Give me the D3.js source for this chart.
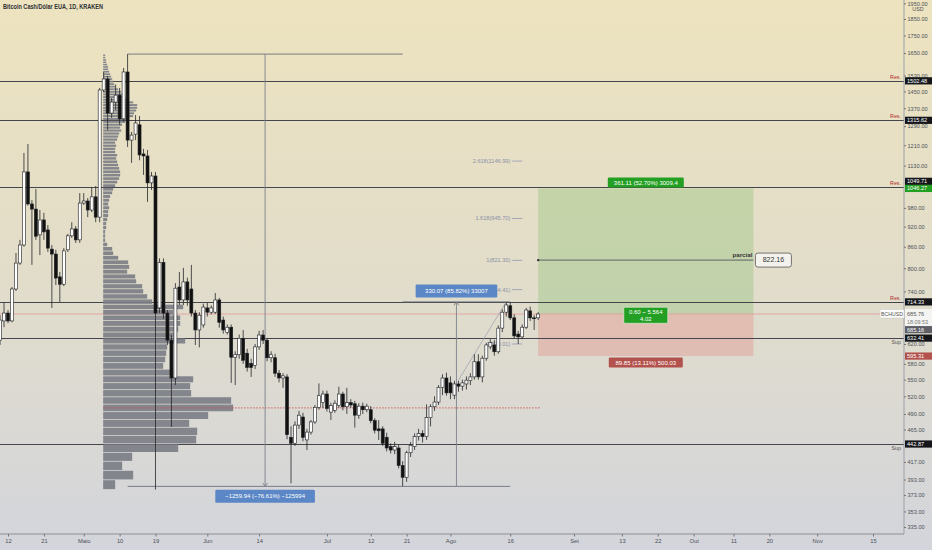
<!DOCTYPE html>
<html><head><meta charset="utf-8">
<script src="https://cdn.jsdelivr.net/npm/d3@7"></script>
<style>html,body{margin:0;padding:0;overflow:hidden;background:#e0dccd}svg{display:block;font-family:"Liberation Sans",Arial,sans-serif}</style>
</head><body><svg id="c" width="932" height="550"></svg>
<script>
// ---------------- DATA ----------------
const title = "Bitcoin Cash/Dólar EUA, 1D, KRAKEN";
const candleStart = "2021-04-10";
const opens = [628,670,688,670,746,814,865,1106,993,976,895,941,910,853,839,777,758,851,892,913,880,
 996,1003,973,1017,950,1457,1512,1348,1399,1432,1322,1548,1231,1256,1296,1175,1167,1066,1091,700,816,688,628,553,751,719,764,746,688,650,661,
 700,690,690,719,672,645,656,593,598,632,601,581,577,614,639,628,592,592,562,553,555,453,444,472,485,449,461,477,501,509,
 524,493,496,504,524,502,509,507,488,503,497,497,479,466,466,453,439,434,437,412,396,430,439,454,459,454,484,502,510,536,553,
 544,522,542,538,542,548,555,584,555,591,614,618,604,654,690,705,677,641,635,656,693,677,677];
const highs = [683,712,695,751,842,880,1179,1215,1006,1044,973,964,925,865,851,790,856,898,934,922,1030,
 1030,1013,1051,1055,1467,1548,1527,1418,1484,1467,1569,1644,1265,1339,1335,1195,1191,1106,1106,827,827,695,639,761,790,801,775,809,695,690,710,
 712,706,736,724,680,662,662,605,640,650,610,590,620,648,650,632,605,600,568,562,560,470,478,495,492,466,480,505,543,530,
 530,509,513,537,528,535,515,512,508,509,507,503,483,480,470,460,444,446,442,418,433,446,459,466,464,506,506,520,540,560,563,
 556,548,548,550,556,562,599,599,596,622,630,628,660,697,714.33,712,685,648,662,700,703,683,690];
const lows = [618,656,665,667,741,809,860,987,809,880,836,880,845,700,756,714,753,845,886,871,871,
 990,950,966,934,934,1447,1273,1326,1362,1296,1309,1203,1140,1231,1150,1095,1000,1041,380,688,675,618,469,540,707,707,705,680,618,613,655,
 680,685,686,655,642,640,544,540,590,580,565,555,570,608,620,585,583,555,545,535,450,388,440,466,447,434,457,474,497,500,
 494,480,492,500,496,490,500,468,482,490,493,475,459,449,440,432,429,428,408,384.06,390,424,434,448,445,449,470,495,505,522,521,
 515,515,528,530,532,540,550,550,545,586,609,596,600,645,680,672,632,620,630,652,670,650,672];
const closes = [672,688,670,746,814,865,1106,993,976,891,941,904,856,839,774,758,848,892,913,880,996,
 1003,973,1017,950,1457,1512,1348,1399,1432,1322,1548,1231,1252,1304,1171,1167,1066,1091,688,816,688,628,553,748,719,764,719,688,650,683,702,
 690,700,719,667,650,656,593,598,632,587,573,573,614,639,628,592,598,562,553,557,457,444,472,488,453,461,477,501,521,524,
 499,504,508,524,502,509,505,488,503,497,503,479,464,463,444,437,434,439,412,396,430,441,454,459,454,484,502,510,536,553,526,
 526,542,538,544,549,555,584,555,591,618,623,604,654,690,707,677,637,635,656,695,677,675,685.76];

// fixed range volume profile (May 6 -> Aug 23), 100 rows from 380 to 1644
const profileStartDate = "2021-05-06";
const profileEndDate = "2021-08-23";
const profileLow = 380, profileHigh = 1644;
const profileVolumes = [12,30,19,29,75,93,94,86,105,130,
 128,88,87,90,70,60,62,63,64,82,
 72,75,77,77,70,80,49,44,40,39,
 33,32,24,26,25,15,10,9,4,2,
 2,2,3,3,4,5,5,6,5,6,
 7,9,10,12,14,16,17,17,16,15,
 14,13,14,12,12,13,12,14,15,16,
 18,17,19,22,26,30,31,33,34,34,
 30,26,22,20,18,15,12,11,10,9,
 8,7,6,5,5,4,3,3,2,2];

// horizontal S/R levels
const levelPrices = [1502.48, 1315.62, 1049.71, 714.33, 632.41, 442.87];
const levelTags   = ["Res.","Res.","Res.","Res.","Sup","Sup"];

// price axis
const priceTicks = [1950,1850,1750,1650,1530,1450,1370,1290,1210,1130,980,920,860,800,740,620,580,550,520,490,465,417,393,373,353,335];
const lastPrice = 685.76, lastTime = "18:09:53", symbol = "BCHUSD";

// time axis
const timeTickDates = ["2021-04-12","2021-04-21","2021-05-01","2021-05-10","2021-05-19","2021-06-01","2021-06-14","2021-07-01","2021-07-12","2021-07-21","2021-08-01","2021-08-16","2021-09-01","2021-09-13","2021-09-22","2021-10-01","2021-10-11","2021-10-20","2021-11-01","2021-11-15"];
const timeTickLabels = ["12","21","Maio","10","19","Jun","14","Jul","12","21","Ago","16","Set","13","22","Out","11","20","Nov","15"];

// long position tool
const posStart = "2021-08-23", posEnd = "2021-10-16";
const posEntry = 685.16, posTarget = 1046.27, posStop = 595.31;
const posTargetText = "361.11 (52.70%) 3009.4";
const posMidText = ["0.60 ~ 5.564", "4.02"];
const posStopText = "89.85 (13.11%) 500.03";

// partial target line
const partialPrice = 822.16, partialLabel = "parcial";

// trend-based fib extension
const fibRatios = [0, 0.618, 1, 1.618, 2.618];
const fibPrices = [620.01, 744.41, 821.30, 945.70, 1146.99];
const fibLineDates = ["2021-08-16","2021-08-19"];
const fibTrendDates = ["2021-08-03","2021-08-15"];
const fibTrendPrices = [549, 714.33];

// price range measurements
const measures = [
  {from:"2021-05-12", to:"2021-07-20", p0:1644.00, p1:384.06, text:"\u22121259.94 (\u221276.61%) \u2212125994"},
  {from:"2021-07-20", to:"2021-08-16", p0:384.06, p1:714.33, text:"330.07 (85.82%) 33007"}
];

// ---------------- CHART ----------------
const P = d3.utcParse("%Y-%m-%d");
const svg = d3.select("#c");
const W = 932, H = 550, plotR = 904, plotB = 534;
const x = d3.scaleUtc().domain([P("2021-04-12"), P("2021-11-15")]).range([8, 873]);
const y = d3.scaleLog().domain([1650, 335]).range([53, 527]);

const defs = svg.append("defs");
const gr = defs.append("linearGradient").attr("id","bg").attr("x1",0).attr("y1",0).attr("x2",0).attr("y2",1);
gr.append("stop").attr("offset","0%").attr("stop-color","#ede3bf");
gr.append("stop").attr("offset","50%").attr("stop-color","#e2ddca");
gr.append("stop").attr("offset","100%").attr("stop-color","#d3d5dc");
defs.append("clipPath").attr("id","clip").append("rect").attr("x",0).attr("y",0).attr("width",plotR).attr("height",plotB);
defs.append("clipPath").attr("id","fibclip").append("rect").attr("x",0).attr("y",0).attr("width",plotR).attr("height",plotB);
svg.append("rect").attr("width",W).attr("height",H).attr("fill","url(#bg)");

const plot = svg.append("g").attr("clip-path","url(#clip)");

// position tool boxes
const px0 = x(P(posStart)), px1 = x(P(posEnd)), pmx = (px0+px1)/2;
plot.append("rect").attr("x",px0).attr("width",px1-px0).attr("y",y(posTarget)).attr("height",y(posEntry)-y(posTarget)).attr("fill","rgba(80,175,60,0.22)");
plot.append("rect").attr("x",px0).attr("width",px1-px0).attr("y",y(posEntry)).attr("height",y(posStop)-y(posEntry)).attr("fill","rgba(235,70,70,0.2)");

// last price line
plot.append("line").attr("x1",0).attr("x2",plotR).attr("y1",y(lastPrice)).attr("y2",y(lastPrice))
  .attr("stroke","#e29a9a").attr("stroke-width",0.8);

// S/R levels
plot.selectAll(".lvl").data(levelPrices).join("line").attr("class","lvl")
  .attr("x1",0).attr("x2",plotR).attr("y1",d=>Math.round(y(d))+0.5).attr("y2",d=>Math.round(y(d))+0.5)
  .attr("stroke","#45464c").attr("stroke-width",1);

// volume profile
const rowStep = (profileHigh-profileLow)/profileVolumes.length;
const vpx = x(P(profileStartDate)) - 0.5;
const wScale = d3.scaleLinear().domain([0, d3.max(profileVolumes)]).range([0, 130]);
plot.selectAll(".vp").data(profileVolumes).join("rect").attr("class","vp")
  .attr("x",vpx)
  .attr("y",(d,i)=>y(profileLow+rowStep*(i+1))+0.4)
  .attr("height",(d,i)=>Math.max(0.6, y(profileLow+rowStep*i)-y(profileLow+rowStep*(i+1))-0.8))
  .attr("width",d=>wScale(d))
  .attr("fill","#7a7c85").attr("fill-opacity",0.9);
const pocIdx = profileVolumes.indexOf(d3.max(profileVolumes));
const pocPrice = profileLow + rowStep*(pocIdx+0.5);
plot.append("line").attr("x1",vpx).attr("x2",x(P(profileEndDate))+2).attr("y1",y(pocPrice)).attr("y2",y(pocPrice))
  .attr("stroke","#d45050").attr("stroke-width",0.9).attr("stroke-dasharray","1.5,1.5");

// partial line
const partY = y(partialPrice);
plot.append("line").attr("x1",px0).attr("x2",px1).attr("y1",partY).attr("y2",partY).attr("stroke","#55565c").attr("stroke-width",0.9);
plot.append("circle").attr("cx",px0).attr("cy",partY).attr("r",1.2).attr("fill","#333");

// fib extension
const fx0 = x(P(fibLineDates[0])), fx1 = x(P(fibLineDates[1]));
plot.append("line").attr("x1",x(P(fibTrendDates[0]))).attr("y1",y(fibTrendPrices[0]))
  .attr("x2",x(P(fibTrendDates[1]))).attr("y2",y(fibTrendPrices[1])).attr("stroke","#9a9eae").attr("stroke-width",0.7);
plot.selectAll(".fibl").data(fibPrices).join("line").attr("class","fibl")
  .attr("x1",fx0+2).attr("x2",fx1).attr("y1",d=>y(d)).attr("y2",d=>y(d)).attr("stroke","#9a9fb3").attr("stroke-width",0.9);
plot.selectAll(".fibt").data(fibPrices).join("text").attr("class","fibt")
  .attr("x",fx0).attr("y",d=>y(d)+2).attr("text-anchor","end").attr("font-size",5.6).attr("fill","#8a90a8")
  .text((d,i)=>fibRatios[i]+"("+d.toFixed(2)+")");

// measurement lines
measures.forEach((m)=>{
  const a = x(P(m.from)), b = x(P(m.to)), mx = (a+b)/2;
  const y0 = y(m.p0), y1 = y(m.p1);
  [y0,y1].forEach(yy=>plot.append("line").attr("x1",a).attr("x2",b).attr("y1",yy).attr("y2",yy).attr("stroke","#6d7079").attr("stroke-width",0.9));
  plot.append("line").attr("x1",mx).attr("x2",mx).attr("y1",y0).attr("y2",y1).attr("stroke","#7d808a").attr("stroke-width",0.9);
  const dir = y1>y0 ? -1 : 1;
  plot.append("path").attr("d",`M${mx-2.5},${y1+dir*3.5}L${mx},${y1}L${mx+2.5},${y1+dir*3.5}`).attr("fill","none").attr("stroke","#7d808a").attr("stroke-width",0.9);
});

// candles
const start = P(candleStart);
const candles = opens.map((o,i)=>({date:d3.utcDay.offset(start,i), o, h:highs[i], l:lows[i], c:closes[i]}));
const cg = plot.append("g");
cg.selectAll(".wk").data(candles).join("line").attr("class","wk")
  .attr("x1",d=>x(d.date)).attr("x2",d=>x(d.date)).attr("y1",d=>y(d.h)).attr("y2",d=>y(d.l))
  .attr("stroke","#26272b").attr("stroke-width",0.8);
cg.selectAll(".bd").data(candles).join("rect").attr("class","bd")
  .attr("x",d=>x(d.date)-1.5).attr("width",3)
  .attr("y",d=>y(Math.max(d.o,d.c)))
  .attr("height",d=>Math.max(0.8, Math.abs(y(d.o)-y(d.c))))
  .attr("fill",d=>d.c>=d.o?"#ffffff":"#111111")
  .attr("stroke","#1d1e22").attr("stroke-width",0.6);

// Res./Sup tags
plot.selectAll(".tag").data(levelPrices).join("text").attr("class","tag")
  .attr("x",901).attr("text-anchor","end").attr("font-size",5.3)
  .attr("y",(d,i)=>levelTags[i]==="Res." ? y(d)-2 : y(d)+6)
  .attr("fill",(d,i)=>levelTags[i]==="Res." ? "#b02a2a" : "#555")
  .text((d,i)=>levelTags[i]);

// label helper
function label(g, cx, cy, w, h, fill, lines, color, stroke){
  g.append("rect").attr("x",cx-w/2).attr("y",cy-h/2).attr("width",w).attr("height",h).attr("rx",1.2)
    .attr("fill",fill).attr("stroke",stroke||"none").attr("stroke-width",0.6);
  lines.forEach((t,i)=>g.append("text").attr("x",cx).attr("y",cy-(lines.length-1)*3.3+i*6.6+2.1)
    .attr("text-anchor","middle").attr("font-size",6).attr("fill",color).text(t));
}
const lg = svg.append("g");
label(lg, pmx, y(posTarget)-6, 76, 10, "#239f23", [posTargetText], "#fff");
label(lg, pmx, y(posEntry)+1, 44, 16, "#239f23", posMidText, "#fff", "#e8f4e0");
label(lg, pmx, y(posStop)+6.5, 74, 10, "#b3524c", [posStopText], "#fff");
measures.forEach((m)=>{
  const mx = (x(P(m.from))+x(P(m.to)))/2;
  const top = Math.min(y(m.p0),y(m.p1)), bot = Math.max(y(m.p0),y(m.p1));
  const up = m.p1 > m.p0;
  const w = m.text.length*3.6+6;
  label(lg, mx, up ? top-11 : bot+10, w, 13, "#5b87c6", [m.text], "#fff");
});
lg.append("text").attr("x",px1-1).attr("y",partY-3).attr("text-anchor","end").attr("font-size",6.2).attr("font-weight","bold").attr("fill","#333").text(partialLabel);
lg.append("rect").attr("x",px1+2).attr("y",partY-7).attr("width",36).attr("height",14).attr("rx",2.5)
  .attr("fill","#f4f2ec").attr("stroke","#555").attr("stroke-width",0.8);
lg.append("text").attr("x",px1+20).attr("y",partY+2.4).attr("text-anchor","middle").attr("font-size",7).attr("fill","#333").text(partialPrice.toFixed(2));

// title
svg.append("text").attr("x",3).attr("y",9).attr("font-size",6.3).attr("font-weight","bold").attr("fill","#2f3035")
  .attr("textLength",100).attr("lengthAdjust","spacingAndGlyphs").text(title);

// ---------------- AXES ----------------
const ay = svg.append("g").attr("transform",`translate(${plotR},0)`)
  .call(d3.axisRight(y).tickValues(priceTicks).tickFormat(d3.format(".2f")).tickSize(2).tickPadding(1.5));
ay.select(".domain").attr("stroke","#9c9fa8").attr("d",`M0,0V${plotB}`);
ay.selectAll(".tick line").attr("stroke","#777");
ay.selectAll(".tick text").attr("font-size",5.6).attr("fill","#4e5058").attr("font-family","Liberation Sans, Arial");
svg.append("text").attr("x",918).attr("y",11).attr("text-anchor","middle").attr("font-size",5.4).attr("fill","#4e5058").text("USD");

const ax = svg.append("g").attr("transform",`translate(0,${plotB})`)
  .call(d3.axisBottom(x).tickValues(timeTickDates.map(P)).tickFormat((d,i)=>timeTickLabels[i]).tickSize(2.5).tickPadding(2.5));
ax.select(".domain").attr("stroke","#a3a6ae").attr("stroke-width",1.5).attr("d",`M0,0H${plotR}`);
ax.selectAll(".tick line").attr("stroke","#777");
ax.selectAll(".tick text").attr("font-size",5.8).attr("fill","#4e5058").attr("font-family","Liberation Sans, Arial");

// price labels on axis with simple collision avoidance
const lastY = y(lastPrice);
const fixedBoxes = [
  {v:lastPrice, top:lastY-5, bot:lastY+12},
  {v:posTarget, top:y(posTarget)-3.5, bot:y(posTarget)+3.5},
  {v:posStop, top:y(posStop)-3.5, bot:y(posStop)+3.5}
];
const axisLabels = levelPrices.map(v=>({v, bg:"#15161a", fg:"#fff"})).concat([{v:posEntry, bg:"#5e6066", fg:"#fff"}]);
axisLabels.forEach(l=>{
  let c = y(l.v);
  fixedBoxes.forEach(f=>{
    if (c+3.5 > f.top && c-3.5 < f.bot) c = l.v > f.v ? f.top-3.6 : f.bot+3.6;
  });
  l.cy = c;
});
const al = svg.append("g");
function axisBox(cy, bg, fg, txt){
  al.append("rect").attr("x",plotR+1).attr("y",cy-3.6).attr("width",W-plotR-1).attr("height",7.2).attr("fill",bg);
  al.append("text").attr("x",plotR+3).attr("y",cy+2).attr("font-size",5.6).attr("fill",fg).text(txt);
}
axisLabels.forEach(l=>axisBox(l.cy, l.bg, l.fg, l.v.toFixed(2)));
axisBox(y(posTarget), "#22a022", "#fff", posTarget.toFixed(2));
axisBox(y(posStop), "#b3524c", "#fff", posStop.toFixed(2));
al.append("rect").attr("x",880).attr("y",lastY-4.5).attr("width",plotR-880).attr("height",8.5).attr("fill","#fbfbf8").attr("stroke","#c9c9c9").attr("stroke-width",0.5);
al.append("text").attr("x",892).attr("y",lastY+2).attr("text-anchor","middle").attr("font-size",5.2).attr("fill","#555").text(symbol);
al.append("rect").attr("x",plotR+1).attr("y",lastY-5).attr("width",W-plotR-1).attr("height",17).attr("fill","#f4f4f2");
al.append("text").attr("x",plotR+3).attr("y",lastY+2).attr("font-size",5.6).attr("fill","#555").text(lastPrice.toFixed(2));
al.append("text").attr("x",plotR+3).attr("y",lastY+9.5).attr("font-size",5.4).attr("fill","#777").text(lastTime);
</script></body></html>
